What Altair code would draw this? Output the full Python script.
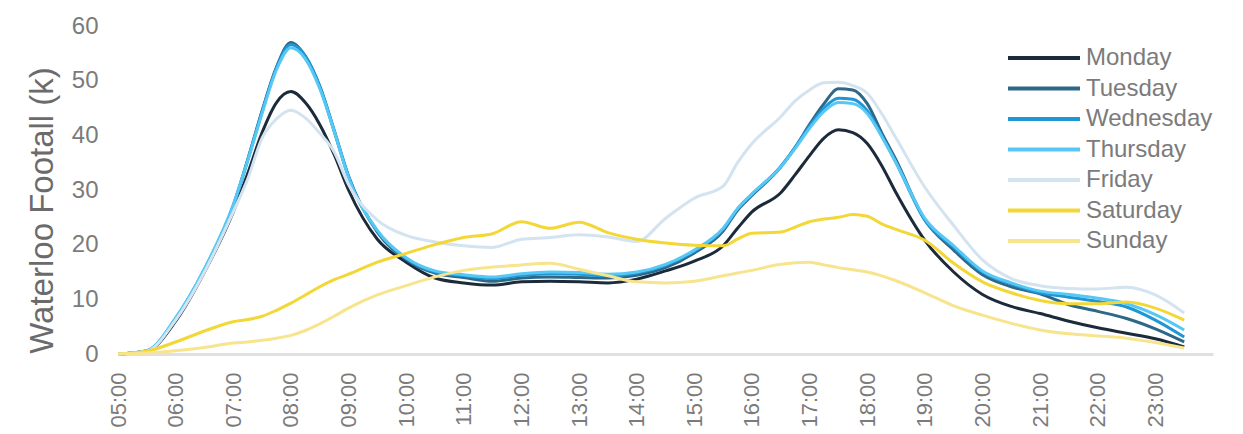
import altair as alt
import pandas as pd

hours = [5, 5.5, 6, 6.5, 7, 7.25, 7.5, 7.75, 8, 8.25, 8.5, 8.75, 9, 9.5, 10, 10.5,
         11, 11.5, 12, 12.5, 13, 13.5, 14, 14.5, 15, 15.5, 15.75, 16, 16.5, 16.75,
         17, 17.25, 17.5, 17.75, 18, 18.25, 18.5, 19, 19.5, 20, 20.5, 21, 21.5, 22,
         22.5, 23, 23.5]

days = ["Monday", "Tuesday", "Wednesday", "Thursday", "Friday", "Saturday", "Sunday"]
colors = ["#1c2b3b", "#2d6887", "#1f97d5", "#57c8f5", "#d3e3ef", "#f3d736", "#f7e48d"]

monday = [0, 0.5, 6, 15, 26, 33, 40.5, 46, 48, 46, 42, 36.5, 30, 21, 16.8, 13.9,
          13, 12.6, 13.2, 13.3, 13.2, 13, 13.7, 15.2, 17, 19.8, 23, 26, 29.5, 32.8,
          36.3, 39.5, 41, 40.5, 38.5, 34.5, 29.5, 20.8, 15, 10.9, 8.7, 7.4, 6, 4.8,
          3.8, 2.8, 1.3]
tuesday = [0, 0.5, 6.3, 15.2, 27, 35.5, 44.5, 52.5, 57, 54.5, 49, 40.8, 32.5, 22.3, 17.3, 14.8,
           14, 13.3, 13.9, 14.1, 14, 13.9, 14.4, 15.8, 18.5, 22.5, 26.3, 29, 34.2, 37.8,
           42, 45.8, 48.5, 48.3, 45.8, 40.5, 35.5, 24.5, 19, 14.5, 12.3, 11, 9, 7.8,
           6.5, 4.6, 2.2]
wednesday = [0, 0.6, 6.5, 15.5, 27.2, 35.5, 44.3, 52.3, 56.6, 54.5, 49, 41, 32.5, 22.5, 17.5, 15,
             14.3, 13.8, 14.4, 14.7, 14.6, 14.3, 14.8, 16.2, 18.8, 22.8, 26.5, 29.2, 34.3, 37.8,
             41.7, 45, 46.8, 46.6, 44.5, 40, 35, 24.5, 19.5, 15, 12.8, 11.2, 10.4, 9.6,
             8.6, 6.2, 3.1]
thursday = [0, 0.6, 6.6, 15.6, 27.3, 35.3, 44, 52, 56, 54, 48.6, 40.8, 32.3, 22.6, 17.6, 15.2,
            14.5, 14.1, 14.7, 15, 14.9, 14.6, 15, 16.4, 19, 23, 26.6, 29.3, 34.2, 37.6,
            41.3, 44.4, 46, 45.8, 44, 39.8, 35, 24.8, 19.8, 15.2, 13, 11.5, 10.9, 10.2,
            9.2, 7.2, 4.4]
friday = [0, 0.5, 6.2, 15, 26, 32, 39.5, 43, 44.6, 43.2, 40.4, 37, 31, 24.5, 21.7, 20.5,
          19.8, 19.5, 21, 21.3, 21.8, 21.4, 20.6, 24.8, 28.5, 30.7, 35, 38.5, 43.4, 46.3,
          48.3, 49.6, 49.7, 49.1, 47.7, 44, 39.5, 30.5, 23.5, 17.2, 13.8, 12.5, 12, 11.9,
          12.2, 10.8, 7.5]
saturday = [0, 0.5, 2.2, 4.2, 5.9, 6.3, 6.9, 8, 9.3, 10.8, 12.3, 13.6, 14.6, 16.8, 18.4, 20,
            21.3, 22, 24.2, 23, 24.1, 22.2, 21, 20.3, 19.9, 19.8, 21, 22.1, 22.3, 23.2,
            24.2, 24.7, 25, 25.5, 25.2, 23.8, 22.8, 20.8, 16.6, 13.2, 11.2, 9.8, 9.2, 9.2,
            9.5, 8.4, 6.2]
sunday = [0, 0.2, 0.6, 1.2, 2.0, 2.2, 2.5, 2.9, 3.4, 4.3, 5.5, 6.9, 8.4, 10.8, 12.5, 14.1,
          15.3, 15.9, 16.3, 16.6, 15.5, 14.3, 13.2, 13, 13.3, 14.3, 14.8, 15.3, 16.4, 16.7,
          16.8, 16.3, 15.8, 15.4, 15, 14.3, 13.4, 11.2, 8.8, 7.1, 5.6, 4.4, 3.7, 3.3,
          2.9, 2.1, 1.1]

tick_hours = list(range(5, 24))

series = [monday, tuesday, wednesday, thursday, friday, saturday, sunday]
rows = []
for order, (day, vals) in enumerate(zip(days, series)):
    for h, v in zip(hours, vals):
        rows.append({"hour": h, "footfall": v, "day": day, "order": order})
df = pd.DataFrame(rows)

FONT = "Liberation Sans"

chart = alt.Chart(df).mark_line(interpolate="monotone", strokeWidth=3).encode(
    x=alt.X("hour:Q",
            scale=alt.Scale(domain=[5, 24], nice=False, zero=False),
            axis=alt.Axis(values=tick_hours, title=None, grid=False, ticks=False, tickSize=0,
                          labelExpr="(datum.value < 10 ? '0' : '') + datum.value + ':00'",
                          labelAngle=270, labelAlign="right", labelBaseline="middle",
                          labelPadding=18, labelFontSize=22, labelColor="#7b7b7b",
                          labelFont=FONT, domainColor="#e0e0e0", domainWidth=3)),
    y=alt.Y("footfall:Q",
            scale=alt.Scale(domain=[0, 60], nice=False),
            axis=alt.Axis(values=[0, 10, 20, 30, 40, 50, 60], title="Waterloo Footall (k)",
                          grid=False, ticks=False, tickSize=0, domain=False,
                          labelPadding=20, labelFontSize=24, labelColor="#7b7b7b",
                          labelFont=FONT, titleFont=FONT, titleFontSize=33,
                          titleFontWeight="normal", titleColor="#6b6b6b",
                          titleX=-76, titleY=184, titleAngle=270,
                          titleAlign="center", titleBaseline="middle")),
    color=alt.Color("day:N", scale=alt.Scale(domain=days, range=colors),
                    legend=alt.Legend(title=None, orient="none", legendX=914, legendY=20,
                                      symbolType="M-4,0H4", symbolSize=324,
                                      symbolStrokeWidth=4, labelOffset=30,
                                      labelFontSize=24, labelColor="#7b7b7b",
                                      labelFont=FONT, rowPadding=6.5)),
    order=alt.Order("order:Q"),
).properties(
    width=1095, height=328,
    background="white",
    autosize=alt.AutoSizeParams(type="none"),
    padding={"left": 110, "top": 18, "right": 22, "bottom": 80},
).configure_view(stroke=None)

chart.save("out.html", embed_options={"renderer": "svg", "actions": False})
